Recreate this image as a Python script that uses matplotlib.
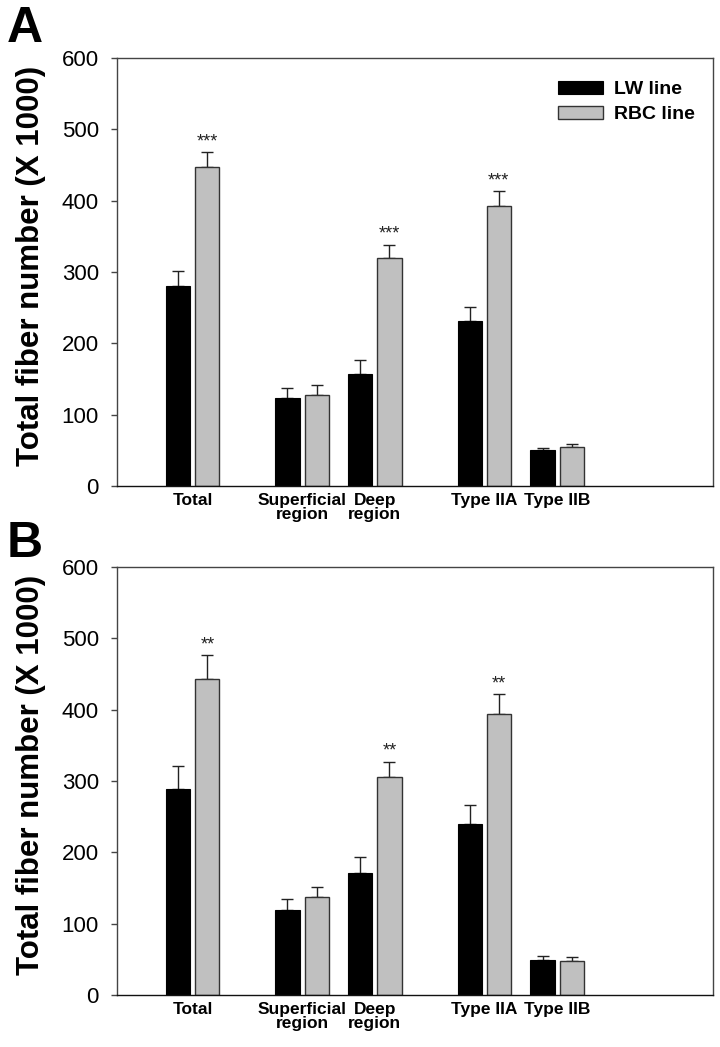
import matplotlib
matplotlib.use("Agg")
import matplotlib.pyplot as plt
import numpy as np
from matplotlib.patches import Patch

plt.rcParams['font.family'] = ['Liberation Sans', 'DejaVu Sans']

categories = ["Total", "Superficial\nregion", "Deep\nregion", "Type IIA", "Type IIB"]
group_pos = [0, 1.5, 2.5, 4.0, 5.0]
series_names = ["LW line", "RBC line"]

# Panel A
a_lw = [281, 124, 157, 231, 50]
a_lw_err = [21, 13.5, 19, 20, 3.7]
a_rbc = [447, 128, 319, 393, 54]
a_rbc_err = [21, 14, 19, 20, 4.5]
a_stars = ["***", "", "***", "***", ""]

# Panel B
b_lw = [289, 119, 171, 240, 49.5]
b_lw_err = [32, 15, 22, 27, 4.7]
b_rbc = [443, 137, 305, 394, 48]
b_rbc_err = [33, 14.5, 22, 27.5, 4.6]
b_stars = ["**", "", "**", "**", ""]

yticks = [0, 100, 200, 300, 400, 500, 600]

fig = plt.figure(figsize=(7.2, 10.47), dpi=100)
W, H = 720, 1047

def make_axes(top_px, bottom_px):
    return fig.add_axes([117 / W, 1 - bottom_px / H, (713 - 117) / W, (bottom_px - top_px) / H])

axA = make_axes(58, 486)
axB = make_axes(567, 995)

bw = 0.33
off = 0.2
black = "#000000"
gray = "#c0c0c0"
edge_gray = "#333333"

def draw(ax, lw, lw_err, rbc, rbc_err, stars):
    x = np.array(group_pos)
    ax.bar(x - off, lw, width=bw, color=black, edgecolor=black, linewidth=0.8, zorder=2)
    ax.bar(x + off, rbc, width=bw, color=gray, edgecolor=edge_gray, linewidth=1.0, zorder=2)
    z = np.zeros(len(x))
    ax.errorbar(x - off, lw, yerr=[z, lw_err], fmt="none", ecolor="#222222",
                elinewidth=1.0, capsize=4.5, capthick=1.0, zorder=1)
    ax.errorbar(x + off, rbc, yerr=[z, rbc_err], fmt="none", ecolor="#222222",
                elinewidth=1.0, capsize=4.5, capthick=1.0, zorder=1)
    for xi, v, e, s in zip(x + off, rbc, rbc_err, stars):
        if s:
            ax.annotate(s, (xi, v + e), xytext=(0, 1.5), textcoords="offset points",
                        ha="center", va="bottom", fontsize=13, color="#222222")
    ax.set_xlim(-1.04, 7.14)
    ax.set_ylim(0, 600)
    ax.set_yticks(yticks)
    ax.set_yticklabels([str(t) for t in yticks], fontsize=16)
    ax.set_xticks(group_pos)
    ax.set_xticklabels(categories, fontsize=12.5, fontweight="bold", linespacing=0.95)
    ax.tick_params(axis="x", length=0, pad=5)
    ax.tick_params(axis="y", direction="out", length=4, width=1, color="#444444", pad=9)
    for sp in ax.spines.values():
        sp.set_color("#444444")
        sp.set_linewidth(1.0)
    ax.spines["bottom"].set_color("#111111")
    ax.set_ylabel("Total fiber number (X 1000)", fontsize=22.5, fontweight="bold")
    ax.yaxis.set_label_coords(-0.119, 0.514)

draw(axA, a_lw, a_lw_err, a_rbc, a_rbc_err, a_stars)
draw(axB, b_lw, b_lw_err, b_rbc, b_rbc_err, b_stars)

handles = [Patch(facecolor=black, edgecolor=black, linewidth=0.8),
           Patch(facecolor=gray, edgecolor=edge_gray, linewidth=1.0)]
fig.legend(handles, series_names, loc="upper left",
           bbox_to_anchor=(558 / W, 1 - 81 / H), bbox_transform=fig.transFigure,
           frameon=False, borderpad=0, borderaxespad=0,
           handlelength=2.3, handleheight=0.62, handletextpad=0.6,
           labelspacing=0.4, prop={"size": 14, "weight": "bold"})

fig.text(7 / W, 1 - 6 / H, "A", fontsize=36, fontweight="bold", va="top", ha="left")
fig.text(7 / W, 1 - 521 / H, "B", fontsize=36, fontweight="bold", va="top", ha="left")

fig.savefig("out.png", dpi=100)
